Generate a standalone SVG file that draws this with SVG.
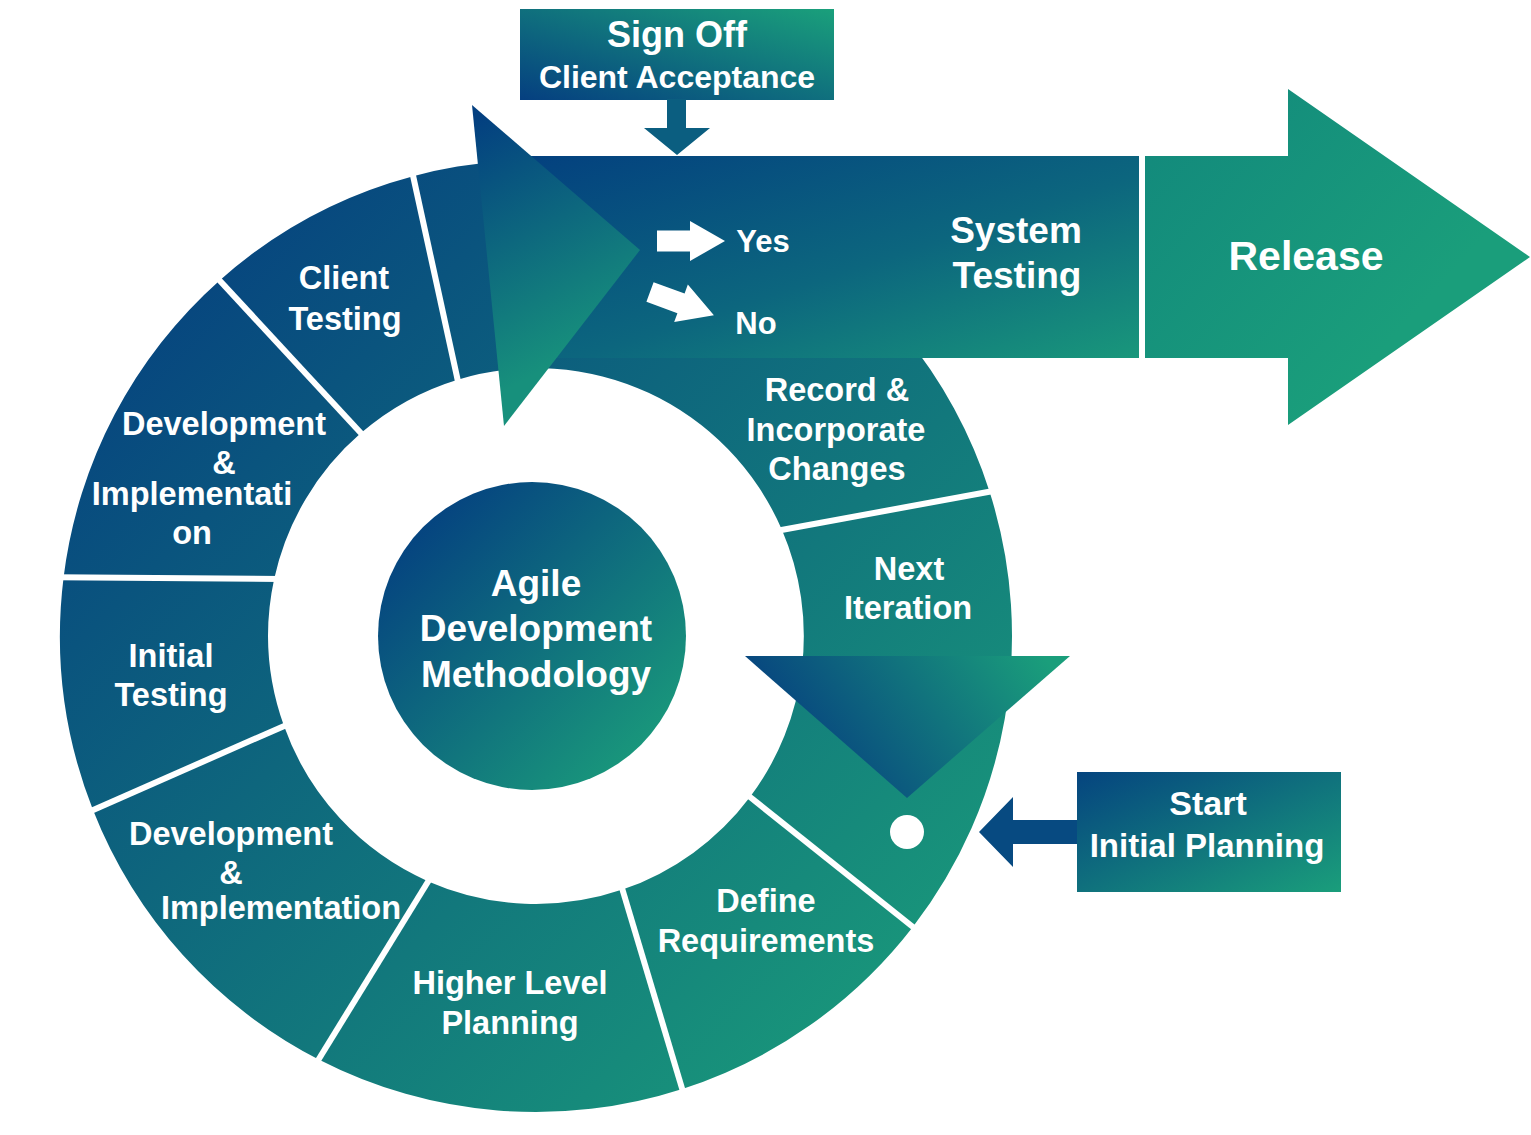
<svg xmlns="http://www.w3.org/2000/svg" width="1531" height="1135" viewBox="0 0 1531 1135">
<defs>
<style>
.lbl{font-family:"Liberation Sans",Arial,sans-serif;font-weight:bold;fill:#ffffff;text-anchor:middle}
.sep{stroke:#ffffff;stroke-width:6;fill:none}
</style>
<linearGradient id="ringGrad" gradientUnits="userSpaceOnUse" x1="150" y1="250" x2="950" y2="1050">
<stop offset="0" stop-color="#06427f"/>
<stop offset="1" stop-color="#1a9c7a"/>
</linearGradient>
<linearGradient id="bandGrad" x1="0" y1="0" x2="1" y2="1">
<stop offset="0" stop-color="#03407f"/>
<stop offset="0.55" stop-color="#0c667e"/>
<stop offset="1" stop-color="#19977b"/>
</linearGradient>
<linearGradient id="relGrad" gradientUnits="userSpaceOnUse" x1="1145" y1="100" x2="1400" y2="330">
<stop offset="0" stop-color="#12887c"/>
<stop offset="1" stop-color="#1a9e7b"/>
</linearGradient>
<linearGradient id="circGrad" x1="0.1" y1="0.1" x2="0.9" y2="0.9">
<stop offset="0" stop-color="#043f80"/>
<stop offset="1" stop-color="#1a9b7b"/>
</linearGradient>
<linearGradient id="triGrad" gradientUnits="userSpaceOnUse" x1="480" y1="115" x2="600" y2="340">
<stop offset="0" stop-color="#033f80"/>
<stop offset="1" stop-color="#17907c"/>
</linearGradient>
<linearGradient id="downGrad" gradientUnits="userSpaceOnUse" x1="1040" y1="650" x2="840" y2="790">
<stop offset="0" stop-color="#1a9e7b"/>
<stop offset="1" stop-color="#08487f"/>
</linearGradient>
<linearGradient id="signGrad" x1="0" y1="1" x2="1" y2="0">
<stop offset="0" stop-color="#053f80"/>
<stop offset="1" stop-color="#1aa07b"/>
</linearGradient>
<linearGradient id="startGrad" x1="0" y1="0" x2="1" y2="1">
<stop offset="0" stop-color="#05447f"/>
<stop offset="1" stop-color="#1a9e7b"/>
</linearGradient>
<polygon id="wArrow" points="0,-10.5 33,-10.5 33,-20 68,0 33,20 33,10.5 0,10.5"/>
</defs>

<g id="ring">
<g id="seg-dev-impl-1">
<path d="M63.6,577.2 A476,476 0 0 1 219.6,280.4 L360.9,433.1 A268,268 0 0 0 274.2,578.8 Z" fill="url(#ringGrad)"/>
<text class="lbl" font-size="32.5"><tspan x="224" y="435">Development</tspan><tspan x="224" y="474">&amp;</tspan><tspan x="192" y="505">Implementati</tspan><tspan x="192" y="544">on</tspan></text>
</g>
<g id="seg-client-testing">
<path d="M219.6,280.4 A476,476 0 0 1 413.1,176.2 L457.6,379.7 A268,268 0 0 0 360.9,433.1 Z" fill="url(#ringGrad)"/>
<text class="lbl" font-size="32.5"><tspan x="344" y="289">Client</tspan><tspan x="345" y="330">Testing</tspan></text>
</g>
<g id="seg-record">
<path d="M413.1,176.2 A476,476 0 0 1 989.6,491.8 L782,530 A268,268 0 0 0 457.6,379.7 Z" fill="url(#ringGrad)"/>
<text class="lbl" font-size="32.5"><tspan x="837" y="401">Record &amp;</tspan><tspan x="836" y="441">Incorporate</tspan><tspan x="837" y="480">Changes</tspan></text>
</g>
<g id="seg-next-iteration">
<path d="M989.6,491.8 A476,476 0 0 1 913,926.7 L750,797 A268,268 0 0 0 782,530 Z" fill="url(#ringGrad)"/>
<text class="lbl" font-size="32.5"><tspan x="909" y="580">Next</tspan><tspan x="908" y="619">Iteration</tspan></text>
</g>
<g id="seg-define-req">
<path d="M913,926.7 A476,476 0 0 1 682.3,1089 L622.5,889.6 A268,268 0 0 0 750,797 Z" fill="url(#ringGrad)"/>
<text class="lbl" font-size="32.5"><tspan x="766" y="912">Define</tspan><tspan x="766" y="952">Requirements</tspan></text>
</g>
<g id="seg-higher-level">
<path d="M682.3,1089 A476,476 0 0 1 318.7,1059.5 L428.3,881.4 A268,268 0 0 0 622.5,889.6 Z" fill="url(#ringGrad)"/>
<text class="lbl" font-size="32.5"><tspan x="510" y="994">Higher Level</tspan><tspan x="510" y="1034">Planning</tspan></text>
</g>
<g id="seg-dev-impl-2">
<path d="M318.7,1059.5 A476,476 0 0 1 93,810 L284,726 A268,268 0 0 0 428.3,881.4 Z" fill="url(#ringGrad)"/>
<text class="lbl" font-size="32.5"><tspan x="231" y="845">Development</tspan><tspan x="231" y="884">&amp;</tspan><tspan x="281" y="919">Implementation</tspan></text>
</g>
<g id="seg-initial-testing">
<path d="M93,810 A476,476 0 0 1 63.6,577.2 L274.2,578.8 A268,268 0 0 0 284,726 Z" fill="url(#ringGrad)"/>
<text class="lbl" font-size="32.5"><tspan x="171" y="667">Initial</tspan><tspan x="171" y="706">Testing</tspan></text>
</g>
</g>

<g id="separators">
<line class="sep" x1="56" y1="577.3" x2="281" y2="579"/>
<line class="sep" x1="215.5" y1="276" x2="365" y2="437.5"/>
<line class="sep" x1="411.8" y1="170" x2="459" y2="386"/>
<line class="sep" x1="776" y1="531" x2="996" y2="490.5"/>
<line class="sep" x1="745" y1="793" x2="918" y2="931"/>
<line class="sep" x1="620.5" y1="883" x2="684" y2="1095"/>
<line class="sep" x1="431.5" y1="876" x2="315.5" y2="1064.5"/>
<line class="sep" x1="290" y1="723.4" x2="87.5" y2="812.4"/>
</g>

<g id="system-testing">
<rect x="515" y="156" width="624" height="202" fill="url(#bandGrad)"/>
<text class="lbl" font-size="37"><tspan x="1016" y="243">System</tspan><tspan x="1017" y="288">Testing</tspan></text>
</g>

<g id="release">
<polygon points="1145,156 1288,156 1288,89 1530,257 1288,425 1288,358 1145,358" fill="url(#relGrad)"/>
<text class="lbl" font-size="41" x="1306" y="270">Release</text>
</g>

<g id="center">
<circle cx="532" cy="636" r="154" fill="url(#circGrad)"/>
<text class="lbl" font-size="37"><tspan x="536" y="596">Agile</tspan><tspan x="536" y="641">Development</tspan><tspan x="536" y="687">Methodology</tspan></text>
</g>

<g id="sign-off">
<rect x="520" y="9" width="314" height="91" fill="url(#signGrad)"/>
<text class="lbl"><tspan x="677" y="47" font-size="36">Sign Off</tspan><tspan x="677" y="88" font-size="32">Client Acceptance</tspan></text>
</g>

<g id="start">
<rect x="1077" y="772" width="264" height="120" fill="url(#startGrad)"/>
<text class="lbl"><tspan x="1208" y="815" font-size="34">Start</tspan><tspan x="1207" y="857" font-size="33">Initial Planning</tspan></text>
</g>

<g id="connectors">
<polygon id="sign-arrow" points="667,99 686,99 686,128 710,128 677,155 644,128 667,128" fill="#0b5e80"/>
<polygon id="start-arrow" points="1077,820 1013,820 1013,797 979,832 1013,867 1013,844 1077,844" fill="#074a81"/>
<polygon id="loop-arrow" points="472,105 640,250 504,426" fill="url(#triGrad)"/>
<polygon id="iter-arrow" points="745,656 1070,656 907,798" fill="url(#downGrad)"/>
<circle id="start-dot" cx="907" cy="832" r="17" fill="#ffffff"/>
<use id="yes-arrow" href="#wArrow" transform="translate(657,241)" fill="#ffffff"/>
<use id="no-arrow" href="#wArrow" transform="translate(650,292) rotate(20)" fill="#ffffff"/>
</g>

<g id="decision-labels">
<text class="lbl" font-size="31" x="763" y="252">Yes</text>
<text class="lbl" font-size="31" x="756" y="334">No</text>
</g>
</svg>
